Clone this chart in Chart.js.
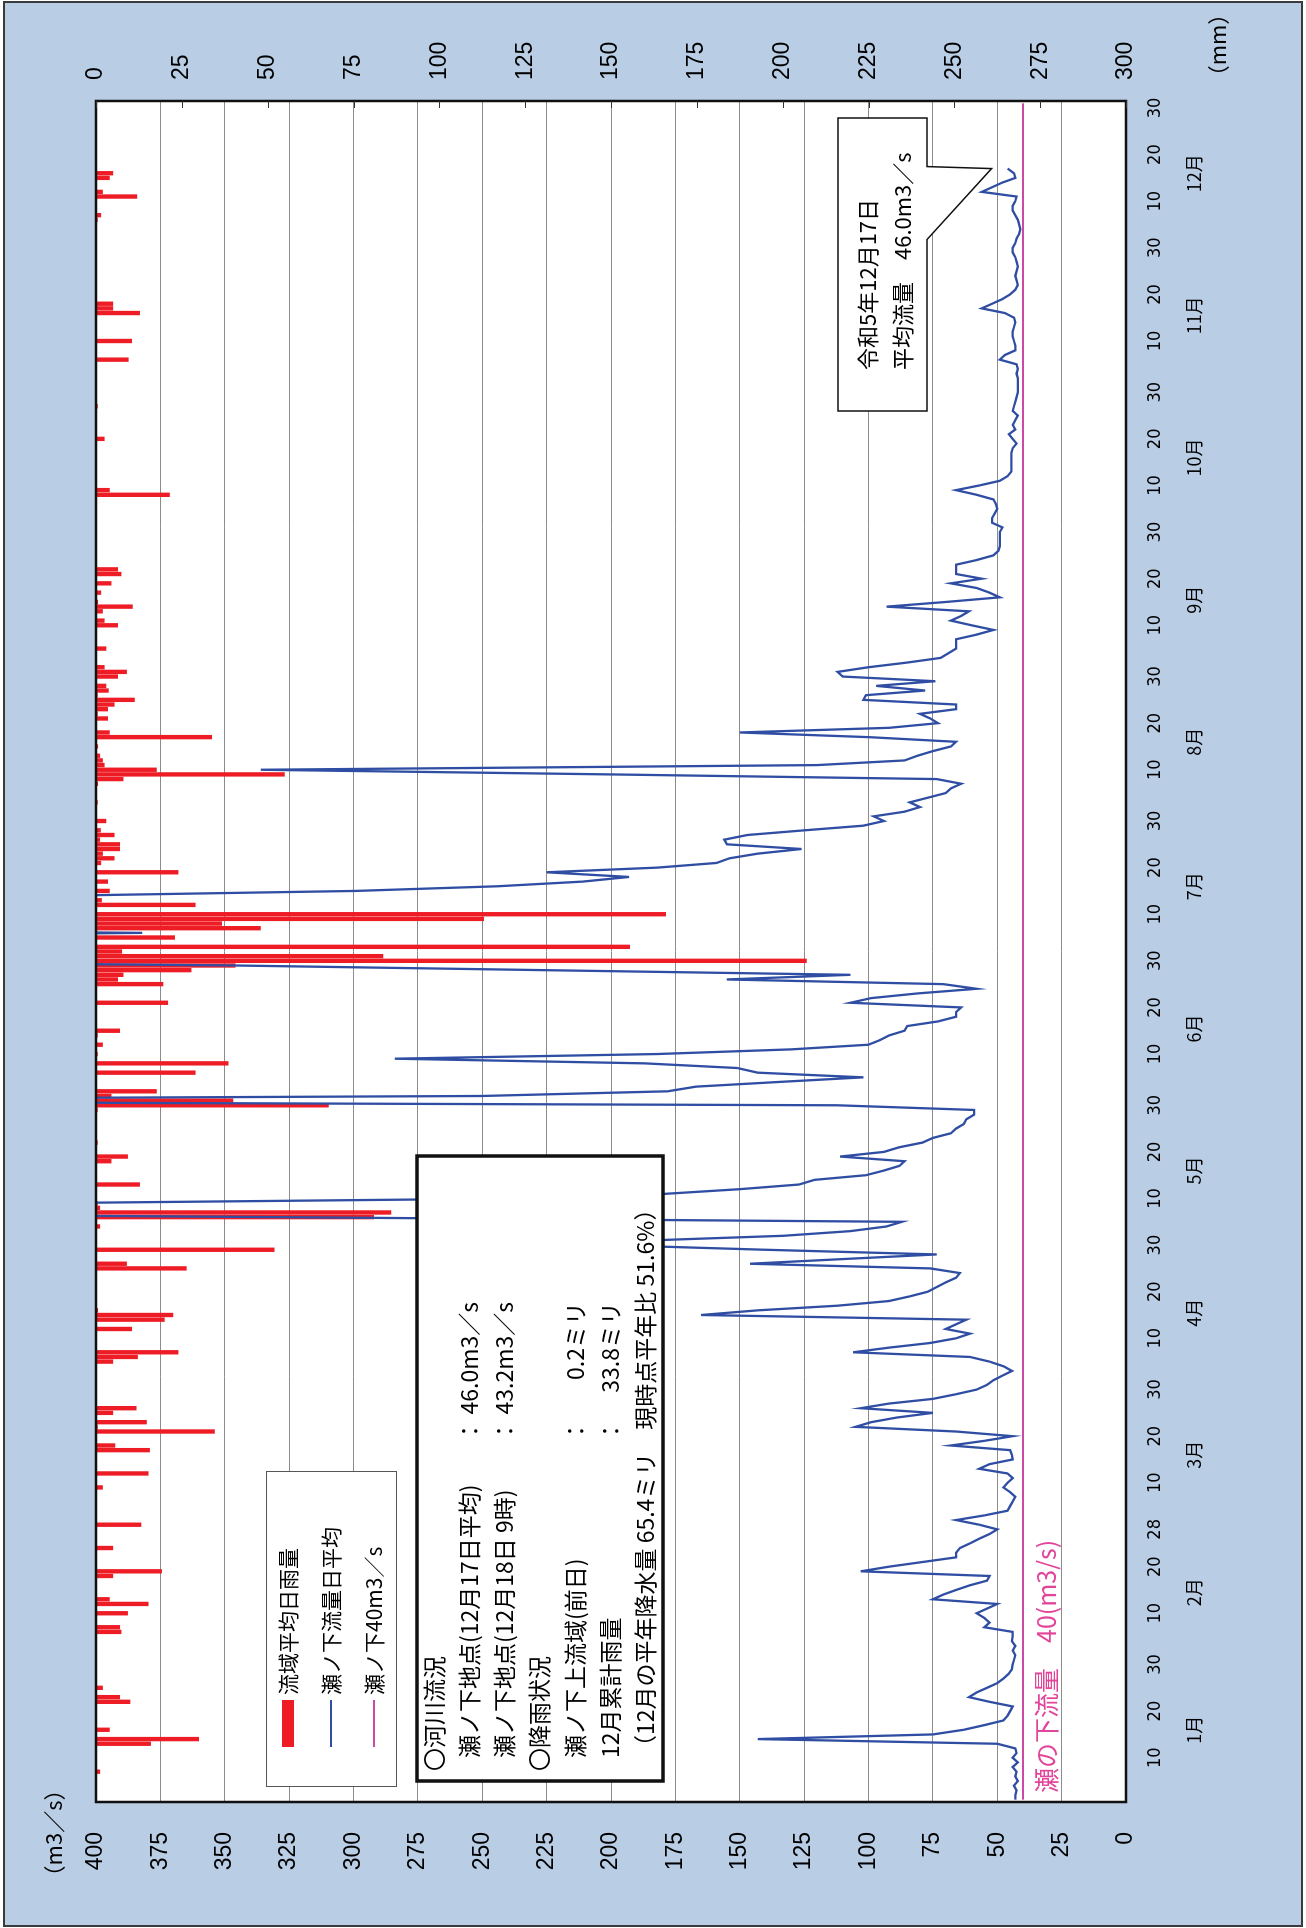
<!DOCTYPE html>
<html lang="ja">
<head>
<meta charset="utf-8">
<title>瀬ノ下 流量・流域雨量</title>
<script src="https://cdn.jsdelivr.net/npm/chart.js@4.4.1/dist/chart.umd.min.js"></script>
<style>
  html, body { margin: 0; padding: 0; background: #fff; }
  body { width: 1306px; height: 1928px; overflow: hidden; position: relative; }
  /* the chart is drawn landscape and turned a quarter turn to the left */
  #wrap { position: absolute; left: 0; top: 0; width: 1928px; height: 1306px;
          transform-origin: 0 0; transform: translate(0, 1928px) rotate(-90deg); }
  canvas { display: block; }
</style>
</head>
<body>
<div id="wrap"><canvas id="chart" width="1928" height="1306"></canvas></div>
<script>
// ==========================================
// データ（令和5年 1/1 ～ 12/17）
// ==========================================

const monthDays = [31, 28, 31, 30, 31, 30, 31, 31, 30, 31, 30, 31];
const monthNames = ['1月', '2月', '3月', '4月', '5月', '6月', '7月', '8月', '9月', '10月', '11月', '12月'];
const tickDays = [10, 20, 30];
const febLastTick = 28;

const flowMax = 400, flowStep = 25;
const rainMax = 300, rainStep = 25;
const threshold = 40;

// 瀬ノ下流量 日平均 (m3/s)  ※400を超える日はグラフ外
const flowJan = [43, 43, 42.5, 43.5, 42, 43, 42.5, 44, 42, 44, 42.5, 43, 50, 143, 75, 63, 55, 47.6, 46, 45, 44, 53, 61, 58, 54, 50, 47.6, 45.6, 44.3, 44, 43.5];
const flowFeb = [43, 44, 43, 44.3, 44, 44, 55, 53, 55, 58, 54, 50, 75, 71, 66, 60.6, 54, 53, 103, 92, 79, 66, 66, 64.5, 60.6, 57, 53, 50];
const flowMar = [57, 66, 55, 46, 45, 44, 43, 45, 47.6, 46, 44, 46, 57, 53, 44, 44.3, 45, 68, 55, 44, 66, 105, 99, 89, 75, 103, 92, 75, 66, 58, 54];
const flowApr = [51.5, 48, 44.3, 47.6, 53, 60.6, 106, 92, 76, 66, 60.6, 70, 66, 62, 165, 143, 112, 92, 84, 77, 73.5, 70, 66, 64.5, 76, 146, 110, 73.5, 140, 200];
const flowMay = [185, 133, 107, 93, 87, 330, 600, 700, 420, 234, 179, 150, 127, 121, 101, 94, 88, 86, 111, 94, 88, 79, 75, 68, 66, 63, 62, 59, 59, 112, 650];
const flowJun = [250, 178, 167, 135, 102, 143, 151, 187, 284, 182, 130, 100, 95.5, 92, 86, 85, 73, 66, 66, 64, 107, 99, 81, 58, 71, 155, 107, 226, 346, 550];
const flowJul = [620, 700, 900, 800, 560, 382, 600, 700, 900, 1000, 800, 600, 500, 410, 299, 244, 211, 193, 225, 182, 159, 154, 143, 126, 155, 156, 147, 125, 102, 94, 98];
const flowAug = [86, 80, 84, 77, 70, 68, 64, 73.5, 200, 336, 120, 86, 81, 75, 68, 66, 100, 150, 92, 73, 76, 80, 66, 66, 102, 101, 78, 97, 74, 110, 112];
const flowSep = [100, 85, 72, 69, 66, 66, 66, 58, 51.5, 60, 68, 64, 61, 93, 70, 49, 53, 58, 68, 56, 66, 66, 66, 58, 51.5, 49.5, 49, 49, 49, 49];
const flowOct = [48, 52, 52, 51, 50, 50.5, 51.5, 58, 66, 57, 49, 46, 44.5, 44.5, 44.5, 44.5, 44.5, 44, 42.5, 44, 45.5, 43, 44, 43, 42, 44, 43.5, 43, 42.5, 42, 42];
const flowNov = [42, 42, 42.5, 42, 42.5, 49, 47, 43, 43, 43.5, 44, 44, 43.5, 43, 43.5, 47, 56, 52, 48, 45, 43, 42, 42.5, 43, 42.5, 42, 42.5, 43, 44, 44];
const flowDec = [43, 42.5, 41.5, 41, 41.5, 42, 43, 44, 44, 43, 42.5, 56, 52, 48, 43, 43.5, 46.0];

// 流域平均日雨量 (mm)
const rainJan = [0, 0, 0, 0, 0, 0, 1.2, 0, 0, 0, 0, 0, 16, 30, 0, 4, 0, 0, 0, 0, 0, 10, 7, 0, 2, 0, 0.3, 0, 0, 0, 0.3];
const rainFeb = [0, 0, 0, 0, 0, 7.4, 7, 0, 0, 9.3, 0, 15.3, 4, 0, 0, 0, 0, 5, 19.2, 0, 0, 0, 0, 5, 0, 0, 0, 0];
const rainMar = [13.2, 0, 0, 0, 0, 0, 0, 0, 2, 0, 0, 15.3, 0, 0, 0, 0, 15.7, 5.6, 0, 0, 34.6, 0.5, 14.8, 0, 5, 11.8, 0, 0, 0, 0, 0];
const rainApr = [0, 0, 0, 0, 5, 12.2, 24, 0, 0, 0, 0, 10.5, 0, 20, 22.5, 0.6, 0, 0, 0, 0, 0, 0, 0, 0, 26.4, 9, 0, 0, 52, 0];
const rainMay = [0.3, 0, 0, 1.2, 0, 81, 86, 1.2, 0.5, 0, 0, 0.3, 12.8, 0, 0, 0, 0, 4.5, 9.3, 0, 0, 0.5, 0, 0, 0, 0, 0, 0, 0.5, 67.8, 40];
const rainJun = [4.5, 17.7, 0, 0, 0, 29, 0, 38.6, 0, 0.5, 0, 2, 0, 0.5, 7, 0, 0, 0, 0, 0, 21, 0, 0, 0, 19.6, 6.4, 8, 27.8, 40.6, 207];
const rainJul = [83.7, 7.6, 155.5, 0, 23, 0, 48, 36.7, 113, 166, 0, 29, 1.7, 0, 4, 0, 3.5, 0, 24, 0, 1.5, 5.4, 2, 7, 7, 1.2, 5.4, 1.4, 0, 3, 0];
const rainAug = [0, 0, 0.5, 0, 0, 0.3, 0.6, 8, 55, 17.7, 2.5, 2, 1.2, 0, 0.6, 0, 33.8, 4, 0, 0, 3.5, 0.5, 3.5, 5.4, 11.3, 0.5, 3.7, 3, 0, 6.4, 9];
const rainSep = [2.5, 0, 0, 0, 3, 0, 0, 0, 0, 6.4, 2.5, 0, 2, 10.7, 0.6, 0, 1.5, 0, 4.5, 0, 7.4, 6.4, 0.3, 0, 0, 0, 0, 0, 0, 0];
const rainOct = [0.3, 0, 0, 0, 0, 0, 0, 21.5, 4, 0, 0, 0, 0, 0, 0, 0, 0, 0, 0, 2.5, 0, 0, 0, 0, 0, 0, 0.5, 0, 0, 0, 0];
const rainNov = [0, 0, 0, 0, 0, 9.5, 0, 0, 0, 10.5, 0, 0, 0, 0, 0, 12.8, 5, 5, 0, 0, 0, 0, 0, 0, 0, 0, 0, 0, 0, 0.2];
const rainDec = [0, 0.2, 0, 0, 0.3, 0.5, 1.5, 0, 0, 0, 12, 2, 0, 0, 4, 5, 0.2];

// 表示テキスト
const legendItems = ['流域平均日雨量', '瀬ノ下流量日平均', '瀬ノ下40m3／s'];
const infoRows = [
    { left: '〇河川流況', indent: false },
    { left: '瀬ノ下地点(12月17日平均)', colon: '：', value: '46.0m3／s' },
    { left: '瀬ノ下地点(12月18日 9時)', colon: '：', value: '43.2m3／s' },
    { left: '〇降雨状況', indent: false },
    { left: '瀬ノ下上流域(前日)', colon: '：', value: '0.2ミリ' },
    { left: '12月累計雨量', colon: '：', value: '33.8ミリ' },
    { left: '（12月の平年降水量 65.4ミリ　現時点平年比 51.6%）' }
];
const calloutLines = ['令和5年12月17日', '平均流量　46.0m3／s'];
const thresholdLabel = '瀬の下流量　40(m3/s)';

// ==========================================
// 組み立て
// ==========================================

const flow = [].concat(flowJan, flowFeb, flowMar, flowApr, flowMay, flowJun,
                       flowJul, flowAug, flowSep, flowOct, flowNov, flowDec);
const rain = [].concat(rainJan, rainFeb, rainMar, rainApr, rainMay, rainJun,
                       rainJul, rainAug, rainSep, rainOct, rainNov, rainDec);

const dayOfMonth = [];
const monthOf = [];
monthDays.forEach((n, m) => {
    for (let d = 1; d <= n; d++) { dayOfMonth.push(d); monthOf.push(m); }
});
const labels = dayOfMonth.map((d, i) => (monthOf[i] + 1) + '/' + d);
const thresholdLine = labels.map(() => threshold);
const lastIdx = flow.length - 1;

const CJK = '"Noto Sans CJK JP", "Noto Sans", sans-serif';
const NUM = '"Liberation Sans", Arial, sans-serif';
const NARROW = '"Liberation Sans Narrow", "DejaVu Sans Condensed", "Liberation Sans", sans-serif';

function txt(ctx, s, x, y, font, color, align) {
    ctx.font = font;
    ctx.fillStyle = color || '#000';
    ctx.textAlign = align || 'left';
    ctx.textBaseline = 'middle';
    ctx.fillText(s, x, y);
}

const decor = {
    id: 'decor',
    beforeDraw(chart) {
        const { ctx, chartArea: a, width, height } = chart;
        ctx.save();
        ctx.fillStyle = '#ffffff';
        ctx.fillRect(0, 0, width, height);
        ctx.fillStyle = '#b9cde5';
        ctx.fillRect(2, 4, width - 4, height - 8);
        ctx.strokeStyle = '#3a3a3a';
        ctx.lineWidth = 2;
        ctx.strokeRect(2, 4, width - 4, height - 8);
        ctx.fillStyle = '#ffffff';
        ctx.fillRect(a.left, a.top, a.right - a.left, a.bottom - a.top);
        ctx.restore();
    },
    afterDraw(chart) {
        const { ctx, chartArea: a, scales } = chart;
        const xs = scales.x, yf = scales.yFlow, yr = scales.yRain;
        ctx.save();

        // 枠
        ctx.strokeStyle = '#111';
        ctx.lineWidth = 2.5;
        ctx.strokeRect(a.left, a.top, a.right - a.left, a.bottom - a.top);

        // 雨量軸の内向き目盛
        ctx.lineWidth = 1;
        ctx.strokeStyle = '#333';
        for (let r = 0; r <= rainMax; r += rainStep) {
            const y = Math.round(yr.getPixelForValue(r)) + 0.5;
            ctx.beginPath();
            ctx.moveTo(a.right - 7, y);
            ctx.lineTo(a.right, y);
            ctx.stroke();
        }

        // 月ラベル
        let start = 0;
        monthDays.forEach((n, m) => {
            const x = (xs.getPixelForValue(start) + xs.getPixelForValue(start + n - 1)) / 2;
            txt(ctx, monthNames[m], x, 1194, '18px ' + CJK, '#000', 'center');
            start += n;
        });

        // 単位
        txt(ctx, '（m3／s）', 95, 54, '22px ' + CJK, '#000', 'center');
        txt(ctx, '（mm）', 1883, 1218, '22px ' + CJK, '#000', 'center');

        // 40m3/s ラベル
        txt(ctx, thresholdLabel, a.left + 9, yf.getPixelForValue(threshold) + 23, '25px ' + CJK, '#e2449a', 'left');

        // 凡例
        ctx.fillStyle = '#fff';
        ctx.fillRect(141, 266, 315, 130);
        ctx.strokeStyle = '#555';
        ctx.lineWidth = 1;
        ctx.strokeRect(141.5, 266.5, 315, 130);
        const rowY = [288, 331, 374];
        ctx.fillStyle = '#ee1c25';
        ctx.fillRect(181, rowY[0] - 6, 47, 12);
        ctx.lineWidth = 2;
        ctx.strokeStyle = '#2f4ea3';
        ctx.beginPath(); ctx.moveTo(181, rowY[1]); ctx.lineTo(228, rowY[1]); ctx.stroke();
        ctx.strokeStyle = '#cc4aa6';
        ctx.beginPath(); ctx.moveTo(181, rowY[2]); ctx.lineTo(228, rowY[2]); ctx.stroke();
        legendItems.forEach((s, i) => txt(ctx, s, 233, rowY[i], '21px ' + CJK));

        // 状況ボックス
        ctx.fillStyle = '#fff';
        ctx.fillRect(147, 417, 625, 246);
        ctx.strokeStyle = '#111';
        ctx.lineWidth = 3.5;
        ctx.strokeRect(147, 417, 625, 246);
        infoRows.forEach((row, i) => {
            const y = 434 + i * 35.2;
            const x = row.indent === false ? 157 : 170;
            txt(ctx, row.left, x, y, '23px ' + CJK);
            if (row.colon) txt(ctx, row.colon, 497, y, '23px ' + CJK, '#000', 'center');
            if (row.value) txt(ctx, row.value, 626, y, '23px ' + CJK, '#000', 'right');
        });

        // 吹き出し
        const bx = 1517, by = 838, bw = 293, bh = 89;
        const tipX = xs.getPixelForValue(lastIdx);
        const tipY = yf.getPixelForValue(flow[lastIdx]) - 16;
        ctx.beginPath();
        ctx.moveTo(bx, by);
        ctx.lineTo(bx + bw, by);
        ctx.lineTo(bx + bw, by + bh);
        ctx.lineTo(tipX + 2, by + bh);
        ctx.lineTo(tipX, tipY);
        ctx.lineTo(tipX - 71, by + bh);
        ctx.lineTo(bx, by + bh);
        ctx.closePath();
        ctx.fillStyle = '#fff';
        ctx.fill();
        ctx.strokeStyle = '#111';
        ctx.lineWidth = 1.5;
        ctx.stroke();
        txt(ctx, calloutLines[0], 1558, 868, '22px ' + CJK);
        txt(ctx, calloutLines[1], 1558, 903, '22px ' + CJK);

        ctx.restore();
    }
};

new Chart(document.getElementById('chart'), {
    type: 'bar',
    data: {
        labels: labels,
        datasets: [
            {
                type: 'line',
                label: '瀬ノ下流量日平均',
                data: flow,
                yAxisID: 'yFlow',
                borderColor: '#2f4ea3',
                borderWidth: 2.3,
                pointRadius: 0,
                tension: 0,
                clip: 0,
                order: 0
            },
            {
                type: 'line',
                label: '瀬ノ下40m3／s',
                data: thresholdLine,
                yAxisID: 'yFlow',
                borderColor: '#cc4aa6',
                borderWidth: 2.2,
                pointRadius: 0,
                order: 1
            },
            {
                type: 'bar',
                label: '流域平均日雨量',
                data: rain,
                yAxisID: 'yRain',
                backgroundColor: '#ee1c25',
                barPercentage: 1,
                categoryPercentage: 0.94,
                order: 2
            }
        ]
    },
    options: {
        responsive: false,
        devicePixelRatio: 1,
        animation: false,
        events: [],
        layout: { padding: { top: 96, right: 0, bottom: 0, left: 0 } },
        plugins: {
            legend: { display: false },
            tooltip: { enabled: false }
        },
        scales: {
            x: {
                type: 'category',
                offset: true,
                grid: { display: false, drawTicks: false, tickLength: 0 },
                border: { display: false },
                ticks: {
                    autoSkip: false,
                    maxRotation: 0,
                    minRotation: 0,
                    padding: 19,
                    color: '#000',
                    font: { family: NARROW, size: 18 },
                    callback: (value, index) => {
                        const d = dayOfMonth[index];
                        if (tickDays.includes(d) || (monthOf[index] === 1 && d === febLastTick)) return String(d);
                        return '';
                    }
                },
                afterFit: s => { s.height = 180; }
            },
            yFlow: {
                position: 'left',
                min: 0,
                max: flowMax,
                grid: { color: '#8c8c8c', lineWidth: 1, drawTicks: false, tickLength: 0 },
                border: { display: false },
                ticks: {
                    stepSize: flowStep,
                    padding: 30,
                    color: '#000',
                    font: { family: NUM, size: 23 }
                },
                afterFit: s => { s.width = 126; }
            },
            yRain: {
                position: 'right',
                min: 0,
                max: rainMax,
                reverse: true,
                grid: { display: false, drawTicks: false, tickLength: 0 },
                border: { display: false },
                ticks: {
                    stepSize: rainStep,
                    padding: 21,
                    color: '#000',
                    font: { family: NUM, size: 23 }
                },
                afterFit: s => { s.width = 101; }
            }
        }
    },
    plugins: [decor]
});
</script>
</body>
</html>
